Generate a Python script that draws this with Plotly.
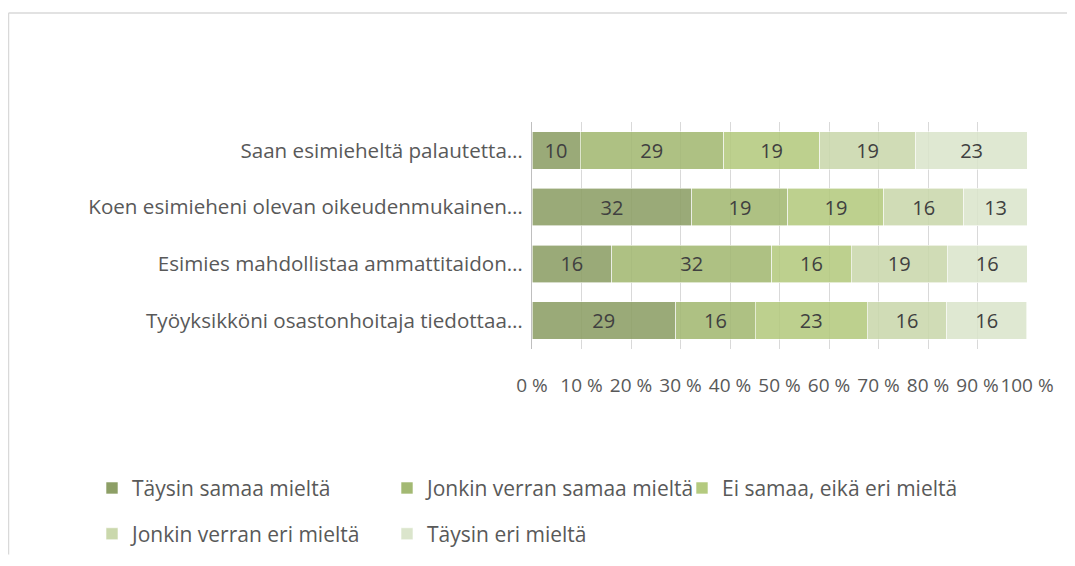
import plotly.graph_objects as go

# ---- data (percent of respondents) ----
questions = [
    "Saan esimieheltä palautetta…",
    "Koen esimieheni olevan oikeudenmukainen…",
    "Esimies mahdollistaa ammattitaidon…",
    "Työyksikköni osastonhoitaja tiedottaa…",
]
series_names = [
    "Täysin samaa mieltä",
    "Jonkin verran samaa mieltä",
    "Ei samaa, eikä eri mieltä",
    "Jonkin verran eri mieltä",
    "Täysin eri mieltä",
]
taysin_samaa = [9.7, 32.3, 16.1, 29.0]
jonkin_samaa = [29.0, 19.4, 32.3, 16.1]
ei_samaa_eika_eri = [19.4, 19.4, 16.1, 22.6]
jonkin_eri = [19.4, 16.1, 19.4, 16.1]
taysin_eri = [22.6, 12.9, 16.1, 16.1]
series_values = [taysin_samaa, jonkin_samaa, ei_samaa_eika_eri, jonkin_eri, taysin_eri]

tick_vals = [0, 10, 20, 30, 40, 50, 60, 70, 80, 90, 100]
tick_text = ["0 %", "10 %", "20 %", "30 %", "40 %", "50 %", "60 %", "70 %", "80 %", "90 %", "100 %"]

colors = ["#8D9F66", "#A3B973", "#B4CA7F", "#CAD8AC", "#DBE5CC"]
legend_ids = ["legend", "legend", "legend", "legend2", "legend2"]

FONT = "Open Sans"
TXT = "#595959"

fig = go.Figure()
for name, vals, col, lg in zip(series_names, series_values, colors, legend_ids):
    fig.add_trace(go.Bar(
        y=questions, x=vals, name=name, orientation="h",
        marker=dict(color=col, opacity=0.88, line=dict(color="white", width=0.6)),
        texttemplate="%{x:.0f}", textposition="inside", insidetextanchor="middle",
        textangle=0, constraintext="none",
        textfont=dict(family=FONT, size=20, color="#404040"),
        legend=lg,
    ))

# figure pixel frame (page is offset by the 8px body margin)
W, H = 1067, 558
L, R, T, B = 524, 1019, 114, 347
def px(x):
    return (x - L) / (R - L)
def py(y):
    return (B - y) / (B - T)

fig.update_layout(
    width=W, height=H,
    margin=dict(l=L, r=W - R, t=T, b=H - B),
    barmode="stack", bargap=0.335,
    plot_bgcolor="white", paper_bgcolor="white",
    font=dict(family=FONT, size=20, color=TXT),
    xaxis=dict(range=[0, 100], tickvals=tick_vals, ticktext=tick_text,
               showgrid=True, gridcolor="#D9D9D9", gridwidth=1,
               zeroline=False, showline=False, ticks="", tickangle=0,
               tickfont=dict(family=FONT, size=19, color=TXT),
               ticklabelstandoff=23),
    yaxis=dict(autorange="reversed", showgrid=False, showline=True,
               linecolor="#BFBFBF", linewidth=1, ticks="",
               tickfont=dict(family=FONT, size=20.6, color=TXT),
               ticklabelstandoff=4),
    legend=dict(orientation="h", x=px(84), xanchor="left", y=py(490), yanchor="middle",
                traceorder="normal",
                entrywidth=250, entrywidthmode="pixels",
                font=dict(family=FONT, size=21, color=TXT), bgcolor="rgba(0,0,0,0)"),
    legend2=dict(orientation="h", x=px(84), xanchor="left", y=py(537), yanchor="middle",
                 traceorder="normal",
                 entrywidth=250, entrywidthmode="pixels",
                 font=dict(family=FONT, size=21, color=TXT), bgcolor="rgba(0,0,0,0)"),
    shapes=[
        dict(type="line", xref="paper", yref="paper", x0=px(0.5), x1=px(0.5), y0=py(2), y1=py(H),
             line=dict(color="#D9D9D9", width=1.5)),
        dict(type="line", xref="paper", yref="paper", x0=px(0.5), x1=px(W), y0=py(2), y1=py(2),
             line=dict(color="#D9D9D9", width=1.5)),
    ],
)

fig.write_html("out.html")
